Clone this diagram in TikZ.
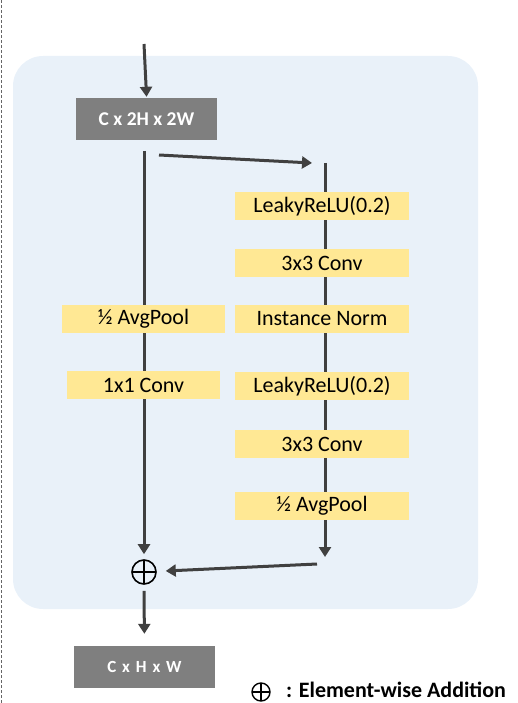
\documentclass[tikz,border=0pt]{standalone}
\usepackage{fontspec}
\setmainfont{Carlito}
\usetikzlibrary{arrows.meta}
\definecolor{panel}{HTML}{E9F1F9}
\definecolor{opfill}{HTML}{FFE894}
\definecolor{shapefill}{HTML}{7F7F7F}
\definecolor{wire}{HTML}{404040}
\tikzset{
  opbox/.style={fill=opfill, minimum height=28pt, inner sep=0pt, font=\fontsize{22}{22}\selectfont},
  shapebox/.style={fill=shapefill, text=white, minimum width=141pt, minimum height=42pt, inner sep=0pt},
  wirearrow/.style={draw=wire, line width=3pt, -{Triangle[length=10pt,width=12pt]}},
  addop/.style={circle, draw=black, line width=1.6pt, minimum size=24pt, inner sep=0pt,
    path picture={\draw[black, line width=1.6pt] (path picture bounding box.north) -- (path picture bounding box.south)
      (path picture bounding box.west) -- (path picture bounding box.east);}},
}
\begin{document}
\begin{tikzpicture}[x=1pt, y=-1pt]
\useasboundingbox (0,0) rectangle (517,703);
% outer dashed guide
\draw[draw=gray!80!black, line width=1pt, dash pattern=on 3pt off 2pt] (1.5,0) -- (1.5,703);
% block background
\fill[panel, rounded corners=30pt] (13,56) rectangle (478,609);

% shape labels
\node[shapebox, font=\bfseries\fontsize{19.5}{19.5}\selectfont] (in) at (146.5,119) {C x 2H x 2W};
\node[shapebox, font=\bfseries\fontsize{17}{17}\selectfont\addfontfeature{LetterSpace=12}] (out) at (144.5,667) {C x H x W};

% turning points of the wires
\coordinate (src) at (144,44);
\coordinate (l0) at (144,151);
\coordinate (b0) at (159,155);
\coordinate (b1) at (312,163);
\coordinate (r0) at (325,163);
\coordinate (r1) at (325,557);
\coordinate (r2) at (317,564);

\node[addop] (add) at (144,572) {};

% wires (behind the operation boxes)
\draw[wirearrow, shorten >=-1pt] (src) -- ([yshift=2pt]in.north);
\draw[wirearrow, shorten >=5pt] (l0) -- (add.north);
\draw[wirearrow] (b0) -- (b1);
\draw[wirearrow] (r0) -- (r1);
\draw[wirearrow, shorten >=9pt] (r2) -- (add);
\draw[wirearrow, shorten >=12pt] ([yshift=-6pt]add.south) -- (out.north);

% shortcut branch
\node[opbox, minimum width=163pt] (sp) at (143.5,319) {½ AvgPool};
\node[opbox, minimum width=153pt] (sc) at (143.5,385) {1x1 Conv};

% residual branch
\node[opbox, minimum width=174pt] (a1) at (322,206) {LeakyReLU(0.2)};
\node[opbox, minimum width=174pt] (a2) at (322,263) {3x3 Conv};
\node[opbox, minimum width=174pt] (a3) at (322,319) {Instance Norm};
\node[opbox, minimum width=174pt] (a4) at (322,386) {LeakyReLU(0.2)};
\node[opbox, minimum width=174pt] (a5) at (322,444) {3x3 Conv};
\node[opbox, minimum width=174pt] (a6) at (322,506) {½ AvgPool};

% legend
\node[addop, minimum size=18pt, line width=1.4pt] (leg) at (261,692) {};
\node[anchor=west, font=\bfseries\fontsize{22}{22}\selectfont, inner sep=0pt] (legtext) at (286,690) {: Element-wise Addition};
\end{tikzpicture}
\end{document}
